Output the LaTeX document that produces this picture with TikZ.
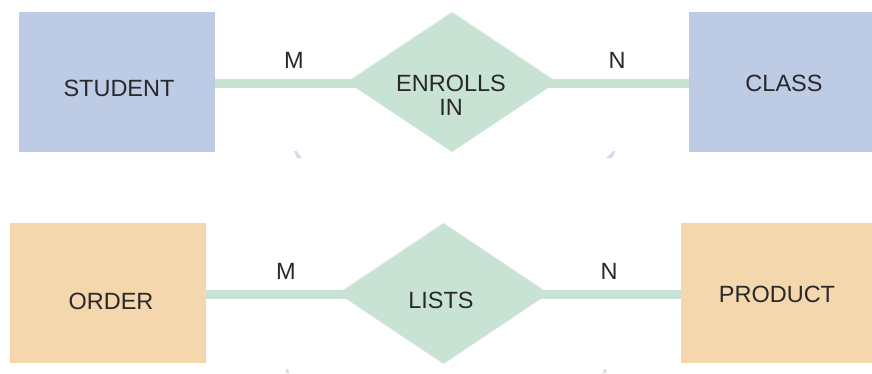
\documentclass[tikz,border=0pt]{standalone}
\usepackage{fontspec}
\setmainfont{Liberation Sans}
\usetikzlibrary{shapes.geometric}
\definecolor{eblue}{RGB}{189,203,229}
\definecolor{rgreen}{RGB}{200,226,212}
\definecolor{eorange}{RGB}{245,215,173}
\definecolor{txt}{RGB}{40,40,45}
\tikzset{
  entbox/.style={draw=none, minimum width=#1, minimum height=140pt, inner sep=0pt},
  relshape/.style={diamond, draw=none, fill=rgreen, minimum width=210pt, minimum height=140pt, inner sep=0pt, aspect=1.5},
  lbl/.style={text=txt, font=\fontsize{23.5}{24}\selectfont, inner sep=0pt, align=center},
  link/.style={draw=rgreen, line width=9pt},
  sliver/.style={fill=eblue!70, draw=none}
}
\begin{document}
\begin{tikzpicture}[x=1pt,y=-1pt]
\useasboundingbox (0,0) rectangle (872,373);
% top row
\node[entbox=196pt, fill=eblue] (stu) at (117,82) {};
\node[relshape] (enr) at (452,82) {};
\node[entbox=183pt, fill=eblue] (cls) at (780.5,82) {};
\draw[link, shorten >=-30pt] (stu.east |- 0,83.5) coordinate (s1) -- (enr.west |- 0,83.5) coordinate (s2);
\draw[link, shorten <=-30pt] (enr.east |- 0,83.5) coordinate (s3) -- (cls.west |- 0,83.5) coordinate (s4);
\node[lbl] (stut) at (119,88) {STUDENT};
\node[lbl] (enrt) at (451,95) {ENROLLS\\IN};
\node[lbl] (clst) at (784,83) {CLASS};
\node[lbl] (m1) at (294,60) {M};
\node[lbl] (n1) at (617,60) {N};
% bottom row
\node[entbox=196pt, fill=eorange] (ord) at (108,293) {};
\node[relshape, minimum width=211pt, minimum height=141pt] (lst) at (443.5,293.5) {};
\node[entbox=191pt, fill=eorange] (prd) at (776.5,293) {};
\draw[link, shorten >=-30pt] (ord.east |- 0,294) coordinate (o1) -- (lst.west |- 0,294) coordinate (o2);
\draw[link, shorten <=-30pt] (lst.east |- 0,294) coordinate (o3) -- (prd.west |- 0,294) coordinate (o4);
\node[lbl] (ordt) at (111,301) {ORDER};
\node[lbl] (lstt) at (441,300) {LISTS};
\node[lbl] (prdt) at (777,294) {PRODUCT};
\node[lbl] (m2) at (286,271) {M};
\node[lbl] (n2) at (609,271) {N};
% small slivers
\fill[sliver] (294,151) -- (296.5,151) -- (302,158) -- (297,158) -- cycle;
\fill[sliver] (613,151) -- (615.5,151) -- (612,158) -- (606,158) -- cycle;
\fill[sliver] (286,369) -- (288,369) -- (289,373) -- (286,373) -- cycle;
\fill[sliver] (604,369) -- (606,369) -- (606,373) -- (603,373) -- cycle;
\end{tikzpicture}
\end{document}
